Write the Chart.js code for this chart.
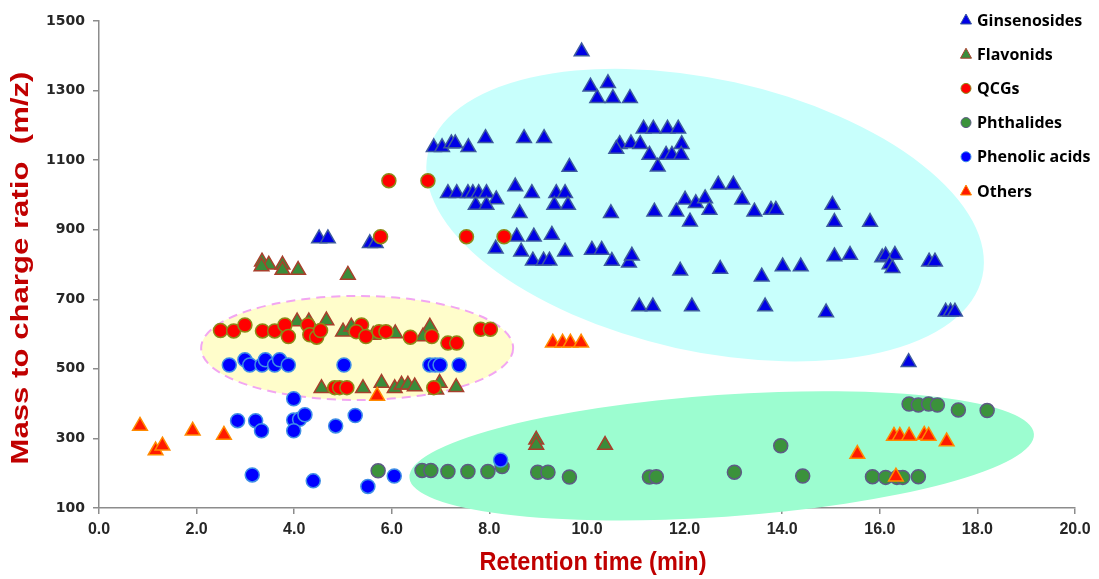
<!DOCTYPE html>
<html>
<head>
<meta charset="utf-8">
<script src="https://cdn.jsdelivr.net/npm/chart.js@4.4.0/dist/chart.umd.min.js"></script>
<style>
  html, body { margin: 0; padding: 0; background: #fff; }
  #wrap { width: 1099px; height: 579px; }
</style>
</head>
<body>
<div id="wrap"><canvas id="chart" width="1099" height="579"></canvas></div>
<script>
// series labels, in legend order
const seriesNames = ['Ginsenosides', 'Flavonids', 'QCGs', 'Phthalides', 'Phenolic acids', 'Others'];

// [retention time (min), m/z]
const ginsenosides = [
  [9.89,1412],[10.07,1311],[10.43,1321],[10.21,1278],[10.53,1278],[10.88,1278],
  [11.16,1190],[11.36,1190],[11.65,1190],[11.87,1190],
  [10.67,1146],[10.6,1132],[10.9,1148],[11.09,1146],[11.94,1146],
  [11.28,1115],[11.62,1115],[11.74,1115],[11.93,1115],[11.45,1081],
  [6.86,1137],[7.03,1137],[7.22,1148],[7.3,1148],[7.57,1137],[7.92,1163],[8.71,1163],[9.12,1163],[9.64,1080],
  [7.15,1005],[7.33,1005],[7.56,1005],[7.66,1005],[7.78,1005],[7.94,1005],[8.14,987],[7.72,971],[7.94,971],
  [8.53,1024],[8.87,1005],[8.62,947],[9.37,1005],[9.55,1005],[9.33,971],[9.61,971],
  [10.49,947],[11.38,952],[11.83,952],[12.01,986],[12.23,976],[12.42,990],[12.51,957],[12.11,923],
  [12.69,1029],[13.0,1029],[13.18,986],[13.43,952],
  [8.56,880],[8.91,880],[9.28,885],[8.13,845],[8.65,837],[8.89,811],[9.11,811],[9.23,811],[9.55,837],
  [10.1,842],[10.3,842],[10.51,810],[10.86,805],[10.92,825],[11.91,782],[12.73,787],
  [11.07,679],[11.35,679],[12.15,679],
  [13.77,957],[13.87,957],[15.03,971],[15.07,922],[15.8,922],[15.07,823],[15.39,827],
  [16.05,820],[16.12,825],[16.31,827],[16.2,800],[16.26,789],[17.01,808],[17.13,808],
  [14.01,794],[14.38,794],[13.58,765],[13.65,679],[14.9,662],[17.35,664],[17.45,664],[17.54,664],[16.59,519],
  [4.51,875],[4.69,875],[5.55,861],[5.67,861]
];
const flavonids = [
  [3.34,808],[3.48,799],[3.33,794],[3.76,799],[3.76,784],[4.08,784],[5.1,770],
  [4.06,636],[4.3,636],[4.66,639],[5.0,607],[5.17,621],[5.62,597],[6.07,602],[6.78,621],[6.64,593],
  [4.56,444],[5.41,444],[5.79,459],[6.06,444],[6.2,454],[6.33,454],[6.47,449],[6.98,459],[6.91,440],[7.32,447],
  [8.96,296],[8.96,281],[10.37,281]
];
const qcgs = [
  [2.49,610],[2.76,609],[2.99,626],[3.35,609],[3.6,609],[3.81,626],[3.88,593],[4.28,626],[4.32,598],
  [4.46,591],[4.54,610],[5.38,626],[5.27,607],[5.47,593],[5.74,607],[5.88,607],[6.38,591],[6.82,593],
  [7.15,574],[7.33,574],[7.82,614],[8.02,614],
  [4.83,446],[4.93,446],[5.08,446],[6.86,446],
  [7.53,880],[8.3,880],[6.74,1041],[5.94,1041],[5.77,880]
];
const phthalides = [
  [5.72,207],[6.62,208],[6.8,208],[7.15,205],[7.56,205],[7.97,205],[8.26,219],[8.99,203],[9.2,203],
  [9.64,189],[11.28,189],[11.42,190],[13.02,203],[13.97,279],[14.42,192],[15.85,190],[16.12,188],
  [16.35,188],[16.47,188],[16.79,190],[16.6,399],[16.79,396],[17.0,399],[17.18,396],[17.61,382],[18.2,380]
];
const phenolicAcids = [
  [2.67,511],[2.99,526],[3.09,511],[3.34,511],[3.41,526],[3.6,511],[3.7,526],[3.88,511],[5.02,511],
  [6.78,511],[6.89,511],[6.99,511],[7.38,511],
  [3.99,414],[2.84,351],[3.21,351],[3.33,322],[3.99,353],[4.11,355],[4.22,368],[3.99,322],[4.85,336],
  [5.25,366],[3.14,195],[4.39,178],[5.51,162],[6.05,192],[8.23,238]
];
const others = [
  [0.84,336],[1.16,265],[1.3,279],[1.92,322],[2.56,310],[5.7,422],[9.3,575],[9.5,575],[9.66,575],[9.88,575],
  [15.54,255],[16.29,307],[16.41,307],[16.6,307],[16.91,310],[17.0,307],[17.37,291],[16.33,190]
];

const xTicks = [0, 2, 4, 6, 8, 10, 12, 14, 16, 18, 20];
const yTicks = [100, 300, 500, 700, 900, 1100, 1300, 1500];

const xTitle = 'Retention time (min)';
const yTitle = 'Mass to charge ratio  (m/z)';

// shaded groups behind the points: centre in data units, half-axes in px, tilt in degrees
const regions = [
  { cx: 12.42, cy: 942, a: 284, b: 136, tilt: 12.5, fill: '#c8fffc' },
  { cx: 12.76, cy: 250, a: 313, b: 61, tilt: -4, fill: '#9cfdd0' },
  { cx: 5.29, cy: 560, a: 156, b: 52, tilt: 0, fill: '#fffdcb', stroke: '#f2a6f2' }
];

const styles = [
  { shape: 'triangle', fill: '#0000e6', border: '#3d5a9e', r: 8.5 },
  { shape: 'triangle', fill: '#3a8c3a', border: '#a8402c', r: 8.5 },
  { shape: 'circle', fill: '#ff0000', border: '#8c8a18', r: 7 },
  { shape: 'circle', fill: '#3b923b', border: '#5e5a86', r: 7 },
  { shape: 'circle', fill: '#0000ff', border: '#3f8fe6', r: 7 },
  { shape: 'triangle', fill: '#ff1a00', border: '#ff8a00', r: 8.5 }
];

const allSeries = [ginsenosides, flavonids, qcgs, phthalides, phenolicAcids, others];

const regionPlugin = {
  id: 'regions',
  beforeDatasetsDraw(chart) {
    const { ctx, scales: { x, y } } = chart;
    ctx.save();
    regions.forEach(e => {
      ctx.beginPath();
      ctx.ellipse(x.getPixelForValue(e.cx), y.getPixelForValue(e.cy), e.a, e.b, e.tilt * Math.PI / 180, 0, Math.PI * 2);
      ctx.fillStyle = e.fill;
      ctx.fill();
      if (e.stroke) {
        ctx.setLineDash([9, 6]);
        ctx.lineWidth = 2;
        ctx.strokeStyle = e.stroke;
        ctx.stroke();
        ctx.setLineDash([]);
      }
    });
    ctx.restore();
  }
};

// draw a title squeezed/stretched to a given width, like the original's distorted text
function fitText(ctx, text, cx, cy, width, angle) {
  ctx.save();
  ctx.translate(cx, cy);
  ctx.rotate(angle);
  const w = ctx.measureText(text).width;
  ctx.scale(width / w, 1);
  ctx.fillText(text, 0, 0);
  ctx.restore();
}

const titlePlugin = {
  id: 'axisTitles',
  afterDraw(chart) {
    const ctx = chart.ctx;
    ctx.save();
    ctx.fillStyle = '#c00000';
    ctx.textAlign = 'center';
    ctx.textBaseline = 'middle';
    ctx.font = 'bold 26px "Liberation Sans"';
    fitText(ctx, xTitle, 593, 563, 227, 0);
    ctx.font = 'bold 23px "Liberation Sans"';
    fitText(ctx, yTitle, 22, 268, 393, -Math.PI / 2);
    ctx.restore();
  }
};

const legendPlugin = {
  id: 'sideLegend',
  afterDraw(chart) {
    const ctx = chart.ctx;
    ctx.save();
    ctx.font = 'bold 16px "Open Sans"';
    ctx.textBaseline = 'middle';
    seriesNames.forEach((name, i) => {
      const s = styles[i];
      const mx = 966, my = 20 + i * 34.2;
      ctx.beginPath();
      if (s.shape === 'circle') {
        ctx.arc(mx, my, 5, 0, Math.PI * 2);
      } else {
        ctx.moveTo(mx, my - 6);
        ctx.lineTo(mx + 5.5, my + 4);
        ctx.lineTo(mx - 5.5, my + 4);
        ctx.closePath();
      }
      ctx.fillStyle = s.fill;
      ctx.fill();
      ctx.lineWidth = 1;
      ctx.strokeStyle = s.border;
      ctx.stroke();
      ctx.fillStyle = '#000';
      ctx.fillText(name, 977, my + 1);
    });
    ctx.restore();
  }
};

const datasets = allSeries.map((pts, i) => ({
  label: seriesNames[i],
  data: pts.map(p => ({ x: p[0], y: p[1] })),
  pointStyle: styles[i].shape,
  pointRadius: styles[i].r,
  pointBackgroundColor: styles[i].fill,
  pointBorderColor: styles[i].border,
  pointBorderWidth: 1.5,
  order: allSeries.length - i
}));

new Chart(document.getElementById('chart').getContext('2d'), {
  type: 'scatter',
  data: { datasets },
  options: {
    responsive: false,
    animation: false,
    devicePixelRatio: 1,
    layout: { padding: { top: 21, right: 24, left: 0, bottom: 0 } },
    plugins: { legend: { display: false }, tooltip: { enabled: false } },
    scales: {
      x: {
        type: 'linear',
        min: 0, max: 20,
        afterBuildTicks: s => { s.ticks = xTicks.map(v => ({ value: v })); },
        afterFit: s => { s.height = 71; },
        ticks: {
          callback: v => v.toFixed(1),
          font: { family: '"Liberation Sans"', weight: 'bold', size: 16 },
          color: '#262626',
          padding: 6,
          maxRotation: 0
        },
        grid: { drawOnChartArea: false, drawTicks: true, tickLength: 6, color: '#8c8c8c', lineWidth: 1.5 },
        border: { color: '#8c8c8c', width: 1.5 }
      },
      y: {
        type: 'linear',
        min: 100, max: 1500,
        afterBuildTicks: s => { s.ticks = yTicks.map(v => ({ value: v })); },
        afterFit: s => { s.width = 99; },
        ticks: {
          callback: v => String(v),
          font: { family: '"DejaVu Sans"', weight: 'bold', size: 14 },
          color: '#262626',
          padding: 8
        },
        grid: { drawOnChartArea: false, drawTicks: true, tickLength: 6, color: '#8c8c8c', lineWidth: 1.5 },
        border: { color: '#8c8c8c', width: 1.5 }
      }
    }
  },
  plugins: [regionPlugin, titlePlugin, legendPlugin]
});
</script>
</body>
</html>
